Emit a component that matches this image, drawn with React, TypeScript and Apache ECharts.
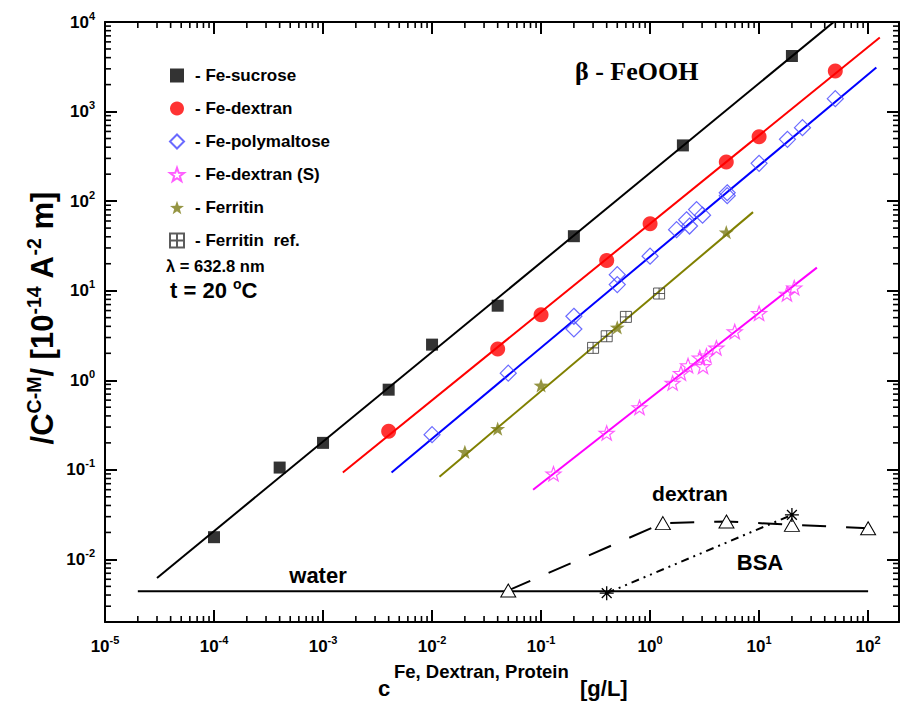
import React, { useEffect, useRef } from 'react';
import * as echarts from 'echarts';

const FONT = '"Liberation Sans", Arial, Helvetica, sans-serif';
const SERIF = '"Liberation Serif", "Times New Roman", serif';

const X_MIN = 1e-5;
const X_MAX = 192;
const Y_MIN = 0.002;
const Y_MAX = 1e4;

// Fe-sucrose (black squares)
const sucroseX = [1e-4, 4e-4, 1e-3, 4e-3, 1e-2, 4e-2, 0.2, 2, 20];
const sucroseY = [0.0177, 0.106, 0.2, 0.785, 2.5, 6.8, 40.6, 419, 4170];
// Fe-dextran (red circles)
const dextranX = [0.004, 0.04, 0.1, 0.4, 1, 5, 10, 50];
const dextranY = [0.269, 2.24, 5.4, 21.7, 55.8, 273, 524, 2840];
// Fe-polymaltose (blue diamonds)
const polyX = [0.01, 0.05, 0.2, 0.2, 0.5, 0.5, 1, 1.75, 2.16, 2.3, 2.67, 3.03, 5.1, 5.1, 10, 18.2, 25, 50];
const polyY = [0.247, 1.2, 5.18, 3.74, 15.1, 11.7, 24.3, 48, 62, 52.7, 80.5, 69.7, 124, 115, 264, 490, 661, 1393];
// Fe-dextran (S) (magenta stars)
const dexSX = [0.13, 0.4, 0.8, 1.61, 1.92, 2.23, 2.86, 3.06, 3.29, 4.06, 5.98, 10, 18, 21];
const dexSY = [0.0904, 0.258, 0.498, 0.933, 1.2, 1.46, 1.78, 1.43, 1.88, 2.3, 3.5, 5.6, 9.2, 10.8];
// Ferritin (olive stars)
const ferX = [0.02, 0.04, 0.1, 0.5, 5];
const ferY = [0.159, 0.288, 0.877, 3.9, 45];
// Ferritin ref. (boxed crosses)
const ferRefX = [0.3, 0.4, 0.6, 1.21];
const ferRefY = [2.3, 3.1, 5.1, 9.3];
// dextran (triangles)
const dexBlankX = [0.05, 1.31, 5.02, 20, 100];
const dexBlankY = [0.0045, 0.0254, 0.0265, 0.0243, 0.0223];
// BSA (asterisks)
const bsaX = [0.4, 20];
const bsaY = [0.0042, 0.0314];
// water level
const waterX = [2e-5, 100];
const waterY = [0.0044, 0.0044];

// fitted lines (end points)
const fitSucrose = [[3e-5, 0.0062], [50, 10350]];
const fitDextran = [[1.52e-3, 0.0933], [128, 6700]];
const fitPoly = [[4.25e-3, 0.0933], [119, 3100]];
const fitFer = [[0.0117, 0.0836], [8.8, 75.4]];
const fitDexS = [[0.0845, 0.0598], [33.9, 18.1]];

const legendNames = ['Fe-sucrose', 'Fe-dextran', 'Fe-polymaltose', 'Fe-dextran (S)', 'Ferritin', 'Ferritin  ref.'];

const STAR = 'path://M10,0 L12.35,6.76 L19.51,6.91 L13.8,11.24 L15.88,18.09 L10,14 L4.12,18.09 L6.2,11.24 L0.49,6.91 L7.65,6.76 Z';
const BOXPLUS = 'path://M0,0 L10,0 L10,10 L0,10 Z M5,0 L5,10 M0,5 L10,5';
const ASTER = 'path://M0,5 L10,5 M5,0 L5,10 M1.5,1.5 L8.5,8.5 M8.5,1.5 L1.5,8.5';

const zip = (xs: number[], ys: number[]) => xs.map((x, i) => [x, ys[i]]);

function minorValues(lo: number, hi: number) {
  const out: number[] = [];
  for (let d = Math.floor(Math.log10(lo)); d <= Math.ceil(Math.log10(hi)); d++) {
    for (let m = 2; m <= 9; m++) {
      const v = m * Math.pow(10, d);
      if (v > lo * 1.0001 && v < hi * 0.9999) out.push(v);
    }
  }
  return out;
}

const labelRich = {
  b: { fontFamily: FONT, fontWeight: 'bold' as const, fontSize: 17, lineHeight: 24, color: '#000' },
  s: { fontFamily: FONT, fontWeight: 'bold' as const, fontSize: 11, lineHeight: 12, verticalAlign: 'top' as const, color: '#000' },
};
const powLabel = (v: number) => `{b|10}{s|${Math.round(Math.log10(v))}}`;

const axisCommon = {
  type: 'log' as const,
  logBase: 10,
  axisLine: { show: true, onZero: false, lineStyle: { color: '#000', width: 2 } },
  axisTick: { show: true, inside: true, length: 12, lineStyle: { color: '#000', width: 2 } },
  splitLine: { show: false },
  minorTick: { show: false },
};

function buildOption() {
  const scatter = (name: string, xs: number[], ys: number[], symbol: string, size: any, itemStyle: any) => ({
    type: 'scatter', name, data: zip(xs, ys), symbol, symbolSize: size, symbolKeepAspect: true,
    itemStyle, z: 4,
  });
  const fit = (data: number[][], color: string) => ({
    type: 'line', data, showSymbol: false, symbol: 'none', lineStyle: { color, width: 2 }, z: 2, clip: true, silent: true,
  });
  const xMinor = minorValues(X_MIN, X_MAX).map((v) => [v, Y_MIN]);
  const yMinor = minorValues(Y_MIN, Y_MAX).map((v) => [X_MIN, v]);

  return {
    animation: false,
    backgroundColor: '#fff',
    grid: { left: 105, top: 22, width: 794, height: 600 },
    xAxis: [
      {
        ...axisCommon, min: X_MIN, max: X_MAX, position: 'bottom',
        axisLabel: { margin: 12, showMaxLabel: false, formatter: powLabel, rich: labelRich },
      },
      {
        ...axisCommon, min: X_MIN, max: X_MAX, position: 'top', axisLabel: { show: false },
      },
    ],
    yAxis: [
      {
        ...axisCommon, min: Y_MIN, max: Y_MAX, position: 'left',
        axisLabel: { margin: 10, showMinLabel: false, formatter: powLabel, rich: labelRich },
      },
      {
        ...axisCommon, min: Y_MIN, max: Y_MAX, position: 'right', axisLabel: { show: false },
      },
    ],
    legend: {
      data: legendNames,
      orient: 'vertical',
      left: 169,
      top: 67,
      padding: 0,
      itemWidth: 14,
      itemHeight: 14,
      itemGap: 16,
      formatter: (n: string) => '- ' + n,
      textStyle: { fontFamily: FONT, fontWeight: 'bold', fontSize: 17, color: '#000', padding: [0, 0, 0, 6] },
      selectedMode: false,
    },
    graphic: [
      { type: 'text', x: 575, y: 71, style: { text: 'β - FeOOH', font: `bold 26px ${SERIF}`, fill: '#000', verticalAlign: 'middle' } },
      { type: 'text', x: 166, y: 266, style: { text: 'λ = 632.8 nm', font: `bold 16.5px ${FONT}`, fill: '#000', verticalAlign: 'middle' } },
      {
        type: 'text', x: 170, y: 290,
        style: {
          text: '{m|t = 20 }{s|o}{m|C}', fill: '#000', verticalAlign: 'middle',
          rich: {
            m: { fontFamily: FONT, fontWeight: 'bold', fontSize: 22, lineHeight: 26 },
            s: { fontFamily: FONT, fontWeight: 'bold', fontSize: 14, lineHeight: 14, verticalAlign: 'top' },
          },
        },
      },
      { type: 'text', x: 318, y: 575, style: { text: 'water', font: `bold 22px ${FONT}`, fill: '#000', align: 'center', verticalAlign: 'middle' } },
      { type: 'text', x: 690, y: 493, style: { text: 'dextran', font: `bold 21px ${FONT}`, fill: '#000', align: 'center', verticalAlign: 'middle' } },
      { type: 'text', x: 760, y: 562, style: { text: 'BSA', font: `bold 22px ${FONT}`, fill: '#000', align: 'center', verticalAlign: 'middle' } },
      // x-axis title
      { type: 'text', x: 378, y: 688, style: { text: 'c', font: `bold 22px ${FONT}`, fill: '#000', verticalAlign: 'middle' } },
      { type: 'text', x: 394, y: 671, style: { text: 'Fe, Dextran, Protein', font: `bold 18.5px ${FONT}`, fill: '#000', verticalAlign: 'middle' } },
      { type: 'text', x: 580, y: 688, style: { text: '[g/L]', font: `bold 22px ${FONT}`, fill: '#000', verticalAlign: 'middle' } },
      // y-axis title
      {
        type: 'text', x: 42, y: 318, rotation: Math.PI / 2,
        style: {
          text: '{m|/C}{s|C-M}{m|/ [10}{s|-14}{m| A}{s|-2}{m| m]}', fill: '#000', align: 'center', verticalAlign: 'middle',
          rich: {
            m: { fontFamily: FONT, fontWeight: 'bold', fontSize: 31, lineHeight: 37 },
            s: { fontFamily: FONT, fontWeight: 'bold', fontSize: 19.5, lineHeight: 19, verticalAlign: 'top' },
          },
        },
      },
    ],
    series: [
      // minor ticks
      {
        type: 'custom', silent: true, z: 1, data: xMinor,
        renderItem: (params: any, api: any) => {
          const cs = params.coordSys;
          const p = api.coord([api.value(0), api.value(1)]);
          const st = { stroke: '#000', lineWidth: 1.6 };
          return {
            type: 'group', children: [
              { type: 'line', shape: { x1: p[0], y1: cs.y + cs.height, x2: p[0], y2: cs.y + cs.height - 6 }, style: st },
              { type: 'line', shape: { x1: p[0], y1: cs.y, x2: p[0], y2: cs.y + 6 }, style: st },
            ],
          };
        },
      },
      {
        type: 'custom', silent: true, z: 1, data: yMinor,
        renderItem: (params: any, api: any) => {
          const cs = params.coordSys;
          const p = api.coord([api.value(0), api.value(1)]);
          const st = { stroke: '#000', lineWidth: 1.6 };
          return {
            type: 'group', children: [
              { type: 'line', shape: { x1: cs.x, y1: p[1], x2: cs.x + 6, y2: p[1] }, style: st },
              { type: 'line', shape: { x1: cs.x + cs.width, y1: p[1], x2: cs.x + cs.width - 6, y2: p[1] }, style: st },
            ],
          };
        },
      },
      fit(fitSucrose, '#000'),
      fit(fitDextran, '#ff0000'),
      fit(fitPoly, '#0000ff'),
      fit(fitFer, '#808000'),
      fit(fitDexS, '#ff00ff'),
      { type: 'line', data: zip(waterX, waterY), showSymbol: false, symbol: 'none', lineStyle: { color: '#000', width: 2 }, z: 2 },
      {
        type: 'line', data: zip(dexBlankX, dexBlankY), symbol: 'triangle', symbolSize: [15, 13], showSymbol: true,
        itemStyle: { color: '#fff', borderColor: '#000', borderWidth: 1 },
        lineStyle: { color: '#000', width: 2, type: [24, 20] }, z: 3,
      },
      {
        type: 'line', data: zip(bsaX, bsaY), symbol: ASTER, symbolSize: 14, showSymbol: true,
        itemStyle: { color: 'none', borderColor: '#000', borderWidth: 1.3 },
        lineStyle: { color: '#000', width: 2, type: [8, 5, 2, 5, 2, 5] }, z: 3,
      },
      scatter('Fe-sucrose', sucroseX, sucroseY, 'rect', 12, { color: '#000' }),
      scatter('Fe-dextran', dextranX, dextranY, 'circle', 15, { color: '#ff0000' }),
      scatter('Fe-polymaltose', polyX, polyY, 'diamond', 16, { color: 'rgba(255,255,255,0)', borderColor: '#4545ff', borderWidth: 1.2 }),
      scatter('Fe-dextran (S)', dexSX, dexSY, STAR, 15, { color: 'rgba(255,255,255,0)', borderColor: '#ff33ff', borderWidth: 1.2 }),
      scatter('Ferritin', ferX, ferY, STAR, 15, { color: '#7a7a14' }),
      scatter('Ferritin  ref.', ferRefX, ferRefY, BOXPLUS, 11, { color: 'rgba(255,255,255,0)', borderColor: '#333', borderWidth: 1 }),
    ],
  };
}

export default function App() {
  const ref = useRef<HTMLDivElement>(null);
  useEffect(() => {
    if (!ref.current) return;
    const chart = echarts.init(ref.current, null, { renderer: 'svg' });
    chart.setOption(buildOption() as any);
    return () => chart.dispose();
  }, []);
  return (
    <div
      ref={ref}
      style={{ position: 'absolute', left: 0, top: 0, width: 903, height: 701, background: '#fff' }}
    />
  );
}
